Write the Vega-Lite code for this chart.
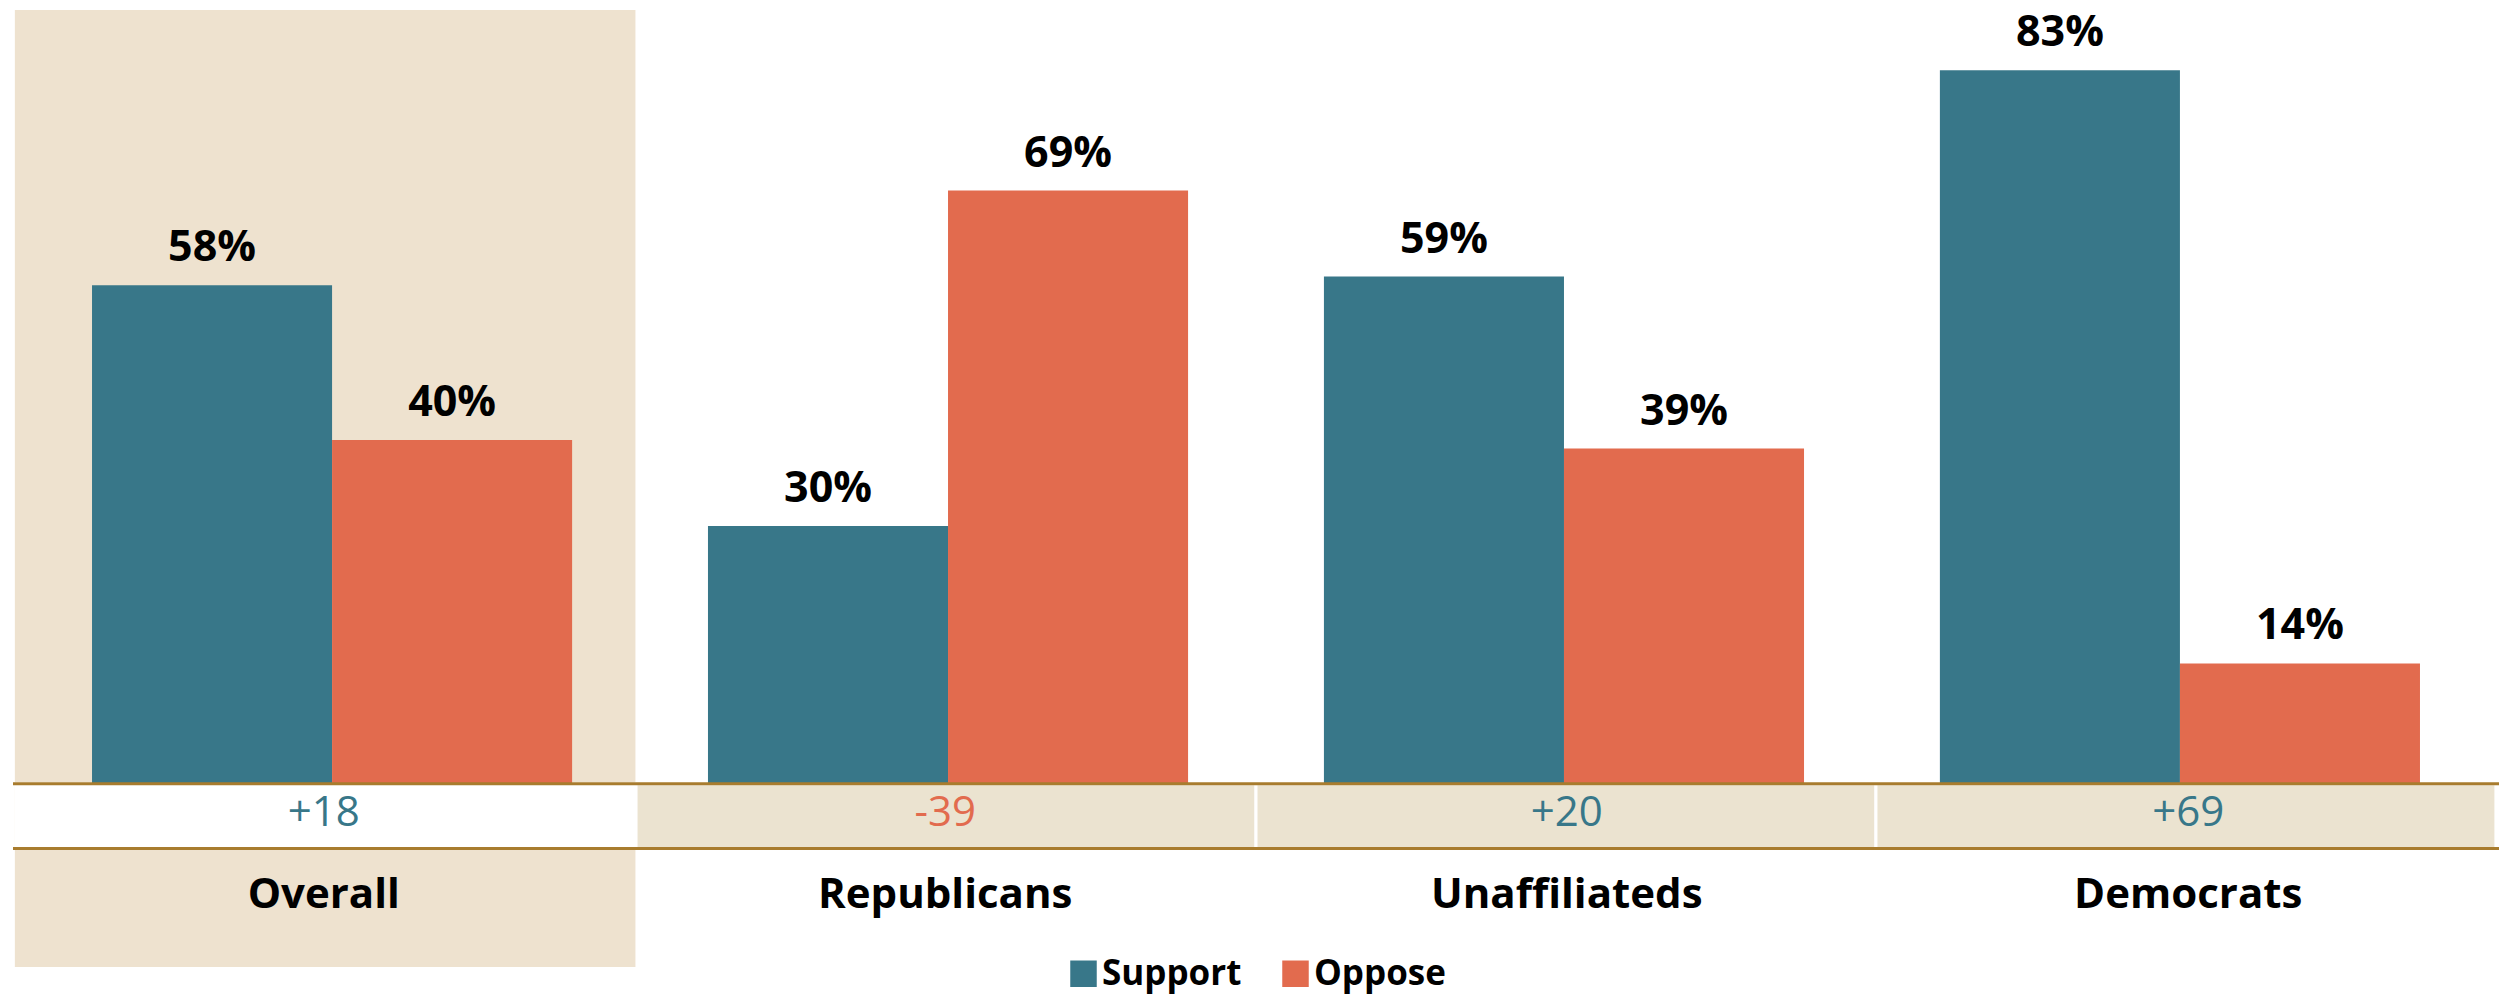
{
  "$schema": "https://vega.github.io/schema/vega-lite/v6.json",
  "width": 2486,
  "height": 957,
  "autosize": "none",
  "padding": {"left": 13, "top": 10, "right": 12, "bottom": 28},
  "background": "white",
  "config": {"view": {"stroke": null}, "font": "Open Sans"},
  "resolve": {"scale": {"x": "independent"}},
  "datasets": {
    "bars": [
      {"group": "Overall", "response": "Support", "pct": 58, "label": "58%"},
      {"group": "Overall", "response": "Oppose", "pct": 40, "label": "40%"},
      {"group": "Republicans", "response": "Support", "pct": 30, "label": "30%"},
      {"group": "Republicans", "response": "Oppose", "pct": 69, "label": "69%"},
      {"group": "Unaffiliateds", "response": "Support", "pct": 59, "label": "59%"},
      {"group": "Unaffiliateds", "response": "Oppose", "pct": 39, "label": "39%"},
      {"group": "Democrats", "response": "Support", "pct": 83, "label": "83%"},
      {"group": "Democrats", "response": "Oppose", "pct": 14, "label": "14%"}
    ],
    "groups": [
      {"group": "Overall", "net": "+18", "leans": "Support", "highlight": true},
      {"group": "Republicans", "net": "-39", "leans": "Oppose", "highlight": false},
      {"group": "Unaffiliateds", "net": "+20", "leans": "Support", "highlight": false},
      {"group": "Democrats", "net": "+69", "leans": "Support", "highlight": false}
    ]
  },
  "layer": [
    {
      "data": {"name": "groups"},
      "transform": [{"filter": "datum.highlight"}],
      "mark": {"type": "rect", "fill": "#EEE2CF"},
      "encoding": {
        "x": {"field": "group", "type": "nominal", "sort": ["Overall", "Republicans", "Unaffiliateds", "Democrats"], "scale": {"domain": ["Overall", "Republicans", "Unaffiliateds", "Democrats"], "paddingInner": 0, "paddingOuter": 0.003}, "axis": null},
        "y": {"datum": 90, "type": "quantitative", "scale": {"domain": [-21.3, 90], "nice": false, "zero": false}, "axis": null},
        "y2": {"datum": -21.3}
      }
    },
    {
      "data": {"name": "groups"},
      "mark": {"type": "rect", "stroke": "white", "strokeWidth": 3},
      "encoding": {
        "x": {"field": "group", "type": "nominal", "sort": ["Overall", "Republicans", "Unaffiliateds", "Democrats"], "scale": {"domain": ["Overall", "Republicans", "Unaffiliateds", "Democrats"], "paddingInner": 0, "paddingOuter": 0.005}, "axis": null},
        "y": {"datum": 0, "type": "quantitative", "scale": {"domain": [-21.3, 90], "nice": false, "zero": false}, "axis": null},
        "y2": {"datum": -7.52},
        "fill": {"condition": {"test": "datum.highlight", "value": "white"}, "value": "#EBE3D0"}
      }
    },
    {
      "data": {"name": "bars"},
      "mark": {"type": "bar"},
      "encoding": {
        "x": {"field": "group", "type": "nominal", "sort": ["Overall", "Republicans", "Unaffiliateds", "Democrats"], "scale": {"domain": ["Overall", "Republicans", "Unaffiliateds", "Democrats"], "paddingInner": 0, "paddingOuter": 0.018}, "axis": null},
        "xOffset": {"field": "response", "type": "nominal", "sort": ["Support", "Oppose"], "scale": {"paddingInner": 0, "paddingOuter": 0.283}},
        "y": {"field": "pct", "type": "quantitative", "scale": {"domain": [-21.3, 90], "nice": false, "zero": false}, "axis": null},
        "y2": {"datum": 0},
        "color": {
          "field": "response",
          "type": "nominal",
          "scale": {"domain": ["Support", "Oppose"], "range": ["#387789", "#E26B4E"]},
          "legend": {
            "title": null,
            "orient": "none",
            "direction": "horizontal",
            "legendX": 1053,
            "legendY": 946,
            "padding": 0,
            "symbolType": "square",
            "symbolSize": 702,
            "symbolStrokeWidth": 0,
            "symbolOpacity": 1,
            "labelFont": "Open Sans",
            "labelFontWeight": "bold",
            "labelFontSize": 35,
            "labelColor": "black",
            "labelLimit": 300,
            "labelOffset": 1,
            "columnPadding": 36
          }
        }
      }
    },
    {
      "data": {"values": [{}]},
      "mark": {"type": "rule", "color": "#A87C2E", "strokeWidth": 3},
      "encoding": {
        "y": {"datum": 0, "type": "quantitative", "scale": {"domain": [-21.3, 90], "nice": false, "zero": false}, "axis": null}
      }
    },
    {
      "data": {"values": [{}]},
      "mark": {"type": "rule", "color": "#A87C2E", "strokeWidth": 3},
      "encoding": {
        "y": {"datum": -7.52, "type": "quantitative", "scale": {"domain": [-21.3, 90], "nice": false, "zero": false}, "axis": null}
      }
    },
    {
      "data": {"name": "bars"},
      "mark": {"type": "text", "font": "Open Sans", "fontWeight": "bold", "fontSize": 43, "baseline": "alphabetic", "dy": -24, "color": "black"},
      "encoding": {
        "x": {"field": "group", "type": "nominal", "sort": ["Overall", "Republicans", "Unaffiliateds", "Democrats"], "scale": {"domain": ["Overall", "Republicans", "Unaffiliateds", "Democrats"], "paddingInner": 0, "paddingOuter": 0.018}, "axis": null},
        "xOffset": {"field": "response", "type": "nominal", "sort": ["Support", "Oppose"], "scale": {"paddingInner": 0, "paddingOuter": 0.283}},
        "y": {"field": "pct", "type": "quantitative", "scale": {"domain": [-21.3, 90], "nice": false, "zero": false}, "axis": null},
        "text": {"field": "label"}
      }
    },
    {
      "data": {"name": "groups"},
      "mark": {"type": "text", "font": "Open Sans", "fontSize": 42, "baseline": "alphabetic"},
      "encoding": {
        "x": {"field": "group", "type": "nominal", "sort": ["Overall", "Republicans", "Unaffiliateds", "Democrats"], "scale": {"domain": ["Overall", "Republicans", "Unaffiliateds", "Democrats"], "paddingInner": 0, "paddingOuter": 0.012}, "axis": null},
        "y": {"datum": -4.91, "type": "quantitative", "scale": {"domain": [-21.3, 90], "nice": false, "zero": false}, "axis": null},
        "text": {"field": "net"},
        "color": {"condition": {"test": "datum.leans === 'Support'", "value": "#387789"}, "value": "#E26B4E"}
      }
    },
    {
      "data": {"name": "groups"},
      "mark": {"type": "text", "font": "Open Sans", "fontWeight": "bold", "fontSize": 42, "baseline": "alphabetic", "color": "black"},
      "encoding": {
        "x": {"field": "group", "type": "nominal", "sort": ["Overall", "Republicans", "Unaffiliateds", "Democrats"], "scale": {"domain": ["Overall", "Republicans", "Unaffiliateds", "Democrats"], "paddingInner": 0, "paddingOuter": 0.018}, "axis": null},
        "y": {"datum": -14.45, "type": "quantitative", "scale": {"domain": [-21.3, 90], "nice": false, "zero": false}, "axis": null},
        "text": {"field": "group"}
      }
    }
  ]
}
